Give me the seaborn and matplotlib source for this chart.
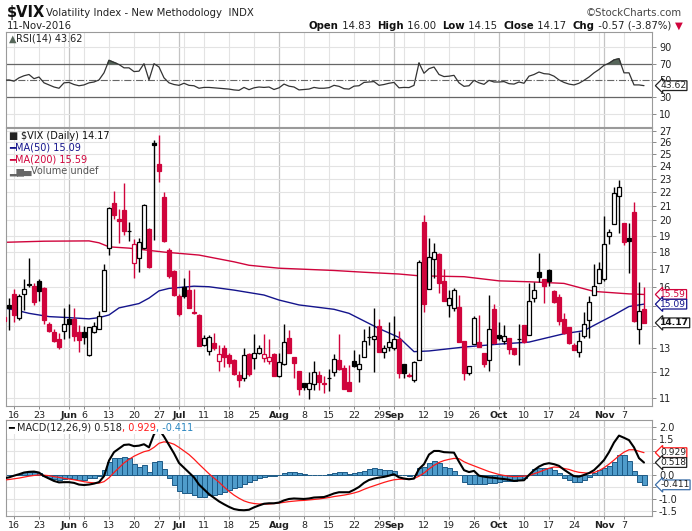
import numpy as np
import pandas as pd
import seaborn as sns
import matplotlib.pyplot as plt
from matplotlib.ticker import FixedLocator, NullLocator
from matplotlib.offsetbox import TextArea, HPacker, VPacker, AnchoredOffsetbox

sns.set_theme(style="white")
plt.rcParams["font.family"] = ["DejaVu Sans"]

# ---------------- data ----------------
holidays = ["2016-05-30", "2016-07-04", "2016-09-05"]
dates = pd.bdate_range("2016-05-12", "2016-11-11")
dates = dates[~dates.isin(pd.to_datetime(holidays))]

opens = [14.45, 15.05, 15.63, 14.4, 15.63, 16.15, 16.05, 16.3, 15.95, 14.1,
         13.72, 13.43, 13.8, 14.35, 14.35, 13.72, 13.72, 12.72, 13.72, 13.9,
         14.75, 18.2, 21.2, 20.1, 20.7, 19.33, 17.35, 17.6, 18.2, 19.45,
         25.95, 24.2, 21.65, 18.1, 16.85, 15.52, 16.0, 15.8, 14.68, 14.55,
         13.17, 12.87, 13.25, 12.45, 13.03, 12.7, 12.5, 11.88, 11.75, 12.78,
         12.57, 12.82, 12.57, 12.45, 12.78, 11.85, 12.33, 13.45, 12.65, 12.03,
         11.57, 11.35, 11.52, 11.88, 11.58, 11.76, 12.0, 12.5, 12.18, 11.62,
         12.45, 12.12, 12.65, 13.53, 13.43, 14.0, 12.85, 13.05, 13.0, 13.4,
         12.35, 11.88, 11.68, 12.5, 19.9, 15.9, 17.55, 17.85, 16.3, 15.05,
         14.9, 14.97, 13.35, 11.96, 13.2, 13.28, 12.82, 12.5, 14.85, 13.62,
         13.33, 13.47, 13.03, 13.42, 14.07, 13.62, 15.42, 16.8, 16.42, 16.9,
         15.75, 15.48, 14.33, 13.97, 13.13, 12.85, 13.57, 14.3, 15.55, 16.2,
         16.4, 18.98, 19.75, 21.75, 19.8, 18.85, 20.55, 13.9, 14.83]
highs = [14.6, 15.4, 15.9, 15.6, 16.4, 17.6, 16.2, 16.4, 16.0, 14.2,
         13.9, 13.7, 14.9, 15.1, 14.9, 14.05, 14.0, 13.97, 14.2, 14.75,
         17.25, 20.9, 22.05, 20.8, 22.7, 19.9, 18.8, 18.85, 21.15, 19.5,
         26.2, 26.7, 22.0, 18.2, 16.9, 15.6, 16.5, 16.9, 15.9, 14.6,
         13.6, 13.6, 13.7, 13.17, 13.17, 12.82, 12.55, 12.05, 13.0, 12.8,
         13.65, 13.17, 13.65, 13.4, 12.8, 12.82, 14.1, 13.85, 12.65, 12.03,
         11.58, 12.0, 12.45, 12.05, 11.85, 12.15, 12.75, 13.65, 12.28, 12.3,
         12.95, 12.75, 13.9, 14.0, 14.9, 14.35, 13.17, 14.2, 14.5, 13.8,
         12.35, 11.95, 12.45, 17.5, 20.4, 18.85, 18.55, 17.9, 17.0, 15.85,
         15.95, 15.55, 13.35, 12.25, 14.5, 14.55, 12.82, 15.55, 15.1, 14.2,
         14.05, 13.47, 13.03, 14.1, 14.07, 16.2, 16.25, 17.9, 16.42, 17.0,
         15.8, 15.6, 14.65, 13.97, 13.25, 13.75, 14.7, 15.5, 17.3, 17.4,
         20.3, 19.45, 22.4, 22.9, 19.8, 19.8, 21.3, 16.25, 16.0]
lows = [14.2, 13.85, 14.2, 14.3, 14.8, 16.0, 15.05, 15.25, 14.1, 13.75,
        13.3, 12.97, 13.4, 13.45, 13.35, 12.85, 13.2, 12.68, 13.68, 13.9,
        14.75, 17.8, 20.1, 18.55, 19.05, 18.65, 16.5, 16.8, 18.15, 17.05,
        18.75, 22.8, 18.6, 16.45, 15.5, 14.5, 15.4, 14.88, 14.6, 13.1,
        13.1, 12.7, 12.95, 12.05, 12.2, 12.2, 11.9, 11.4, 11.65, 11.85,
        12.15, 12.78, 12.4, 12.35, 11.83, 11.8, 12.3, 12.8, 11.75, 11.1,
        11.3, 10.95, 11.3, 11.3, 11.2, 11.25, 11.85, 12.08, 11.33, 11.25,
        12.2, 11.6, 12.65, 13.17, 12.0, 12.85, 12.6, 12.9, 12.95, 11.78,
        11.78, 11.8, 11.6, 12.5, 14.7, 15.9, 16.5, 15.65, 15.25, 14.45,
        14.75, 13.27, 11.7, 11.88, 13.2, 13.05, 12.2, 12.05, 13.2, 13.38,
        13.2, 12.75, 12.7, 12.3, 13.25, 13.62, 15.2, 16.25, 15.15, 16.03,
        15.15, 14.05, 13.65, 13.2, 12.93, 12.65, 13.45, 13.45, 15.55, 16.2,
        16.3, 18.5, 19.75, 19.15, 18.4, 16.75, 14.2, 13.2, 14.15]
closes = [14.27, 14.9, 14.55, 15.5, 15.9, 16.1, 15.2, 15.75, 14.3, 13.8,
          13.32, 13.05, 14.1, 14.12, 13.55, 13.37, 13.53, 13.95, 14.0, 14.5,
          16.95, 20.83, 20.35, 19.95, 19.27, 19.3, 18.5, 18.6, 21.07, 17.1,
          25.76, 23.65, 18.65, 16.6, 15.55, 14.6, 15.5, 14.9, 14.65, 13.12,
          13.45, 13.5, 13.0, 12.77, 12.62, 12.37, 11.92, 11.7, 12.7, 11.92,
          12.82, 13.0, 12.78, 12.65, 11.85, 12.4, 13.28, 12.8, 12.37, 11.33,
          11.4, 11.57, 12.0, 11.62, 11.55, 11.75, 12.55, 12.15, 11.35, 11.27,
          12.25, 12.32, 13.35, 13.52, 13.55, 12.85, 13.03, 13.3, 13.4, 11.95,
          11.96, 11.85, 12.42, 17.4, 15.1, 17.7, 18.0, 16.2, 15.25, 15.42,
          15.85, 13.27, 11.95, 12.25, 14.38, 13.07, 12.32, 13.9, 13.22, 13.48,
          13.55, 12.97, 12.77, 13.4, 13.27, 15.25, 15.8, 16.55, 16.03, 16.3,
          15.18, 14.25, 13.67, 13.22, 12.95, 13.35, 14.13, 15.22, 16.05, 17.0,
          18.45, 19.25, 21.95, 22.35, 18.62, 18.65, 14.25, 14.74, 14.17]

ma50_dates = ["2016-05-12", "2016-05-17", "2016-05-19", "2016-05-25", "2016-06-01",
              "2016-06-07", "2016-06-09", "2016-06-13", "2016-06-15", "2016-06-21",
              "2016-06-23", "2016-06-27", "2016-06-29", "2016-07-07", "2016-07-12",
              "2016-07-19", "2016-07-27", "2016-08-01", "2016-08-05", "2016-08-16",
              "2016-08-19", "2016-08-29", "2016-09-02", "2016-09-08", "2016-09-13",
              "2016-09-22", "2016-10-03", "2016-10-11", "2016-10-20", "2016-10-26",
              "2016-10-28", "2016-11-03", "2016-11-08", "2016-11-11"]
ma50_vals = [14.9, 14.75, 14.63, 14.47, 14.42, 14.36, 14.42, 14.55, 14.9, 15.12,
             15.4, 15.78, 15.91, 16.03, 16.0, 15.82, 15.56, 15.3, 15.05, 14.83,
             14.63, 13.9, 13.49, 12.86, 12.89, 13.06, 13.19, 13.28, 13.66, 13.8,
             14.05, 14.55, 14.97, 15.09]

ma200_dates = ["2016-05-12", "2016-05-24", "2016-06-07", "2016-06-09", "2016-06-13",
               "2016-06-17", "2016-06-28", "2016-07-08", "2016-07-19", "2016-07-22",
               "2016-08-01", "2016-08-16", "2016-08-24", "2016-09-02", "2016-09-09",
               "2016-09-22", "2016-10-03", "2016-10-11", "2016-10-20", "2016-10-28",
               "2016-11-08", "2016-11-11"]
ma200_vals = [18.58, 18.65, 18.67, 18.55, 18.3, 18.22, 17.98, 17.8, 17.4, 17.2,
              17.03, 16.9, 16.8, 16.7, 16.6, 16.55, 16.32, 16.27, 16.18, 15.75,
              15.62, 15.59]

rsi = [50, 50.5, 49, 53, 55.5, 57, 52, 54, 47, 44.5,
       42, 40.5, 47, 47.5, 45, 43.5, 44.5, 47, 48, 50.5,
       59, 74, 71.5, 69, 65, 65, 60.5, 61, 70, 50.5,
       70, 66, 53, 47, 45, 44, 46.5, 44, 43.5, 40.5,
       41.5, 41.5, 41, 40.5, 40, 39.5, 38.5, 38, 41.5, 38.8,
       41, 42, 41.5, 42, 39, 41, 45.5, 43, 42, 38.5,
       39, 39.5, 41.5, 40.5, 40.5, 41.2, 44, 42.8, 40, 39.5,
       43, 43.5, 47.5, 48, 48.5, 44, 45, 46.5, 47.5, 41,
       41.5, 41.3, 44, 70.8, 58.5, 64, 66, 57, 54.5, 55,
       56, 47, 42.8, 43.5, 50, 47, 45.2, 50, 48, 48,
       48.5, 46, 45.5, 48, 46.5, 55, 57, 60, 58, 57.5,
       55, 50.5, 47.5, 45.5, 44.5, 46.5, 50, 54, 59, 63,
       68, 70.5, 74.5, 76, 59, 59, 44.5, 44.5, 43.62]

macd = [-0.14, -0.1, -0.03, 0.03, 0.1, 0.13, 0.14, 0.1, -0.05, -0.15,
        -0.25, -0.31, -0.3, -0.3, -0.33, -0.4, -0.42, -0.4, -0.36, -0.3,
        -0.05, 0.6, 0.95, 1.1, 1.25, 1.27, 1.2, 1.22, 1.28, 1.15,
        1.7, 1.9, 1.6, 1.25, 0.9, 0.5, 0.3, 0.1, -0.1, -0.4,
        -0.6, -0.8, -0.95, -1.1, -1.22, -1.33, -1.42, -1.46, -1.47, -1.45,
        -1.35, -1.27, -1.2, -1.18, -1.18, -1.15, -1.06, -1.0, -0.98, -0.99,
        -1.0, -0.98, -0.94, -0.93, -0.92, -0.85, -0.77, -0.72, -0.72, -0.72,
        -0.62, -0.5, -0.33, -0.21, -0.15, -0.11, -0.08, -0.03, 0.03, -0.1,
        -0.15, -0.18, -0.15, 0.25, 0.45, 0.85, 1.0, 1.0, 0.95, 0.94,
        0.93, 0.55, 0.2, 0.12, 0.17, -0.03, -0.07, -0.1, -0.12, -0.15,
        -0.17, -0.2, -0.25, -0.23, -0.22, 0.0, 0.2, 0.35, 0.45, 0.49,
        0.45, 0.38, 0.22, 0.08, -0.05, -0.07, 0.0, 0.08, 0.2, 0.4,
        0.62, 0.95, 1.35, 1.64, 1.55, 1.45, 1.15, 0.7, 0.518]
signal = [-0.21, -0.19, -0.16, -0.13, -0.09, -0.05, -0.02, 0.0, -0.01, -0.03,
          -0.07, -0.1, -0.14, -0.17, -0.2, -0.24, -0.28, -0.31, -0.33, -0.34,
          -0.28, -0.12, 0.1, 0.3, 0.5, 0.65, 0.78, 0.88, 0.97, 1.02,
          1.15, 1.32, 1.38, 1.35, 1.28, 1.15, 1.0, 0.85, 0.66, 0.45,
          0.25, 0.05, -0.13, -0.3, -0.5, -0.68, -0.84, -0.97, -1.08, -1.15,
          -1.19, -1.21, -1.21, -1.21, -1.19, -1.17, -1.14, -1.11, -1.09, -1.07,
          -1.06, -1.04, -1.02, -1.0, -0.97, -0.94, -0.9, -0.87, -0.84, -0.8,
          -0.75, -0.69, -0.6, -0.52, -0.45, -0.38, -0.31, -0.25, -0.2, -0.18,
          -0.17, -0.17, -0.15, -0.05, 0.08, 0.25, 0.4, 0.52, 0.6, 0.65,
          0.69, 0.68, 0.55, 0.46, 0.38, 0.3, 0.22, 0.14, 0.08, 0.02,
          -0.02, -0.05, -0.07, -0.06, -0.05, -0.03, 0.05, 0.12, 0.2, 0.28,
          0.33, 0.32, 0.27, 0.23, 0.16, 0.11, 0.09, 0.07, 0.1, 0.18,
          0.3, 0.45, 0.62, 0.8, 0.95, 1.05, 1.05, 0.99, 0.929]
hist = [0.0, 0.0, 0.0, 0.04, 0.11, 0.11, 0.14, 0.07, -0.04, -0.14,
        -0.17, -0.21, -0.18, -0.14, -0.17, -0.21, -0.21, -0.14, -0.11, -0.04,
        0.21, 0.56, 0.72, 0.72, 0.76, 0.69, 0.44, 0.35, 0.42, 0.11,
        0.56, 0.58, 0.25, -0.11, -0.42, -0.67, -0.76, -0.76, -0.83, -0.9,
        -0.9, -0.83, -0.83, -0.81, -0.69, -0.62, -0.56, -0.49, -0.39, -0.31,
        -0.21, -0.14, -0.07, -0.03, -0.04, 0.0, 0.07, 0.11, 0.11, 0.07,
        0.03, 0.0, 0.01, 0.01, 0.01, 0.04, 0.07, 0.11, 0.11, 0.04,
        0.07, 0.11, 0.17, 0.25, 0.28, 0.25, 0.21, 0.21, 0.17, 0.0,
        0.0, -0.03, 0.0, 0.31, 0.35, 0.49, 0.58, 0.49, 0.35, 0.31,
        0.17, 0.0, -0.31, -0.39, -0.39, -0.39, -0.39, -0.35, -0.35, -0.31,
        -0.25, -0.25, -0.25, -0.21, -0.14, 0.0, 0.25, 0.31, 0.31, 0.28,
        0.21, 0.07, -0.11, -0.21, -0.28, -0.28, -0.21, -0.07, 0.07, 0.21,
        0.31, 0.39, 0.56, 0.83, 0.83, 0.58, 0.15, -0.31, -0.411]

price_ticks = list(range(11, 28))
hidden_price_labels = [14, 15]
rsi_ticks = [10, 30, 50, 70, 90]
macd_ticks = [-1.5, -1.0, -0.5, 0.0, 0.5, 1.0, 1.5, 2.0]
hidden_macd_labels = [-0.5, 0.5, 1.0]

# ---------------- colours ----------------
RED = "#d0043c"
NAVY = "#14148c"
MACD_BLUE = "#2a86c0"
GRID = "#e3e3e3"
MGRID = "#c4c4c4"
EDGE = "#9a9a9a"

df = pd.DataFrame({"date": dates, "open": opens, "high": highs, "low": lows,
                   "close": closes, "rsi": rsi, "macd": macd, "signal": signal,
                   "hist": hist})
df["x"] = np.arange(len(df))
prev = df["close"].shift(1).fillna(np.inf)
df["col"] = np.where(df["close"] < prev, RED, "black")
df["hollow"] = df["close"] > df["open"]

pos = {d: i for i, d in enumerate(dates)}
ma50 = pd.DataFrame({"x": [pos[pd.Timestamp(d)] for d in ma50_dates], "v": ma50_vals})
ma200 = pd.DataFrame({"x": [pos[pd.Timestamp(d)] for d in ma200_dates], "v": ma200_vals})

# week / month boundaries for grid and labels
week_starts = [i for i in range(1, len(dates))
               if dates[i].isocalendar()[1] != dates[i - 1].isocalendar()[1]]
month_starts = [i for i in range(1, len(dates)) if dates[i].month != dates[i - 1].month]
tick_pos, tick_lab, tick_bold = [], [], []
for i in sorted(set(week_starts) | set(month_starts)):
    if i in month_starts:
        tick_pos.append(i); tick_lab.append(dates[i].strftime("%b")); tick_bold.append(True)
    elif min(abs(i - m) for m in month_starts) > 2:
        tick_pos.append(i); tick_lab.append(str(dates[i].day)); tick_bold.append(False)

# ---------------- figure ----------------
W, H = 692, 531
fig = plt.figure(figsize=(W / 100, H / 100), dpi=100)
L, AW = 6 / W, 646 / W
ax_r = fig.add_axes([L, 1 - 127 / H, AW, 95 / H])
ax = fig.add_axes([L, 1 - 406 / H, AW, 278 / H])
ax_m = fig.add_axes([L, 1 - 516 / H, AW, 96 / H])

for a in (ax_r, ax, ax_m):
    a.set_xlim(0.4, 129.6)
    for s in a.spines.values():
        s.set_color(EDGE)
        s.set_linewidth(0.8)
    for i in week_starts:
        if i not in month_starts:
            a.axvline(i, color=GRID, lw=0.8, zorder=0)
    for i in month_starts:
        a.axvline(i, color=MGRID, lw=0.9, zorder=0)
    a.yaxis.tick_right()
    a.tick_params(axis="y", which="major", length=3, width=0.6, color="#777",
                  pad=2, labelsize=7, labelcolor="#222", right=True, left=False)
    a.tick_params(axis="x", length=2, width=0.6, color="#777", pad=1.5,
                  labelsize=6.8, labelcolor="#222", bottom=True)
    a.set_xticks(tick_pos)
    a.set_xlabel("")
    a.set_ylabel("")

for a in (ax, ax_m):
    a.set_xticklabels(tick_lab)
    for t, b in zip(a.get_xticklabels(), tick_bold):
        t.set_fontweight("bold" if b else "normal")
ax_r.set_xticklabels([])

# ---------- RSI panel ----------
ax_r.set_ylim(-6, 108)
ax_r.set_yticks(rsi_ticks)
for v in (10, 90):
    ax_r.axhline(v, color=GRID, lw=0.8, zorder=0)
for v in (30, 70):
    ax_r.axhline(v, color="#666", lw=0.9, zorder=1)
ax_r.axhline(50, color="#666", lw=0.8, ls="-.", zorder=1)
sns.lineplot(data=df, x="x", y="rsi", ax=ax_r, color="#333", lw=0.9, zorder=3)
ax_r.fill_between(df["x"], df["rsi"], 70, where=df["rsi"] > 70, interpolate=True,
                  color="#56665a", zorder=2)
ax_r.set_xlabel(""); ax_r.set_ylabel("")

# ---------- price panel ----------
ax.set_yscale("log")
ax.set_ylim(10.71, 27.3)
ax.yaxis.set_major_locator(FixedLocator(price_ticks))
ax.yaxis.set_minor_locator(NullLocator())
ax.set_yticklabels(["" if p in hidden_price_labels else str(p) for p in price_ticks])
for p in price_ticks:
    ax.axhline(p, color=GRID, lw=0.8, zorder=0)

sns.lineplot(data=ma200, x="x", y="v", ax=ax, color=RED, lw=1.0, zorder=2)
sns.lineplot(data=ma50, x="x", y="v", ax=ax, color=NAVY, lw=1.0, zorder=2)

ax.vlines(df["x"], df["low"], df["high"], colors=df["col"], lw=1.0, zorder=3)
body_lo = np.minimum(df["open"], df["close"])
body_h = np.maximum(np.abs(df["close"] - df["open"]), 0.01)
face = np.where(df["hollow"], "white", df["col"])
ax.bar(df["x"], body_h, bottom=body_lo, width=0.72, color=face,
       edgecolor=df["col"], lw=0.9, zorder=4)
ax.set_xlabel(""); ax.set_ylabel("")

# ---------- MACD panel ----------
ax_m.set_ylim(-1.71, 2.29)
ax_m.set_yticks(macd_ticks)
ax_m.set_yticklabels(["" if v in hidden_macd_labels else f"{v:.1f}" for v in macd_ticks])
for v in macd_ticks:
    ax_m.axhline(v, color=GRID, lw=0.8, zorder=0)
ax_m.bar(df["x"], df["hist"], width=1.0, color="#4f9ccb", edgecolor="#1d5a86",
         lw=0.7, zorder=2)
sns.lineplot(data=df, x="x", y="signal", ax=ax_m, color="#ff1a1a", lw=0.9, zorder=3)
sns.lineplot(data=df, x="x", y="macd", ax=ax_m, color="black", lw=1.5, zorder=4)
ax_m.set_xlabel(""); ax_m.set_ylabel("")


# ---------- value tags on the right ----------
def tag(a, y, s, ec, tc, bold=False):
    a.annotate(s, xy=(1, y), xycoords=("axes fraction", "data"), xytext=(6, 0),
               textcoords="offset points", ha="left", va="center", fontsize=6.6,
               color=tc, fontweight="bold" if bold else "normal",
               bbox=dict(boxstyle="larrow,pad=0.04", fc="white", ec=ec, lw=0.9),
               annotation_clip=False, zorder=10)


tag(ax_r, rsi[-1], f"{rsi[-1]:.2f}", "#222", "#222")
tag(ax, ma200_vals[-1], f"{ma200_vals[-1]:.2f}", RED, RED)
tag(ax, ma50_vals[-1], f"{ma50_vals[-1]:.2f}", NAVY, NAVY)
tag(ax, closes[-1], f"{closes[-1]:.2f}", "#222", "#111", bold=True)
tag(ax_m, signal[-1], f"{signal[-1]:.3f}", "#ff1a1a", "#222")
tag(ax_m, macd[-1], f"{macd[-1]:.3f}", "#222", "#222")
tag(ax_m, hist[-1], f"{hist[-1]:.3f}", "#3c6ea8", "#222")


# ---------- texts ----------
def row(parts, size=7):
    kids = [TextArea(t, textprops=dict(size=size, color=c, fontweight=w))
            for t, c, w in parts]
    return HPacker(children=kids, align="baseline", pad=0, sep=0)


def place(box, x, y, loc, frame=False):
    ab = AnchoredOffsetbox(loc=loc, child=box, pad=0.05, borderpad=0,
                           frameon=frame, bbox_to_anchor=(x / W, 1 - y / H),
                           bbox_transform=fig.transFigure)
    if frame:
        ab.patch.set_facecolor("white")
        ab.patch.set_edgecolor("none")
    ab.set_zorder(20)
    fig.add_artist(ab)


place(row([("\\$VIX", "#111", "bold")], size=10.5), 6, 4, "upper left")
place(row([("Volatility Index - New Methodology  INDX", "#222", "normal")], size=7.3),
      45, 7, "upper left")
place(row([("\u00a9StockCharts.com", "#444", "normal")], size=7.3), 683, 7, "upper right")
place(row([("11-Nov-2016", "#222", "normal")], size=7.3), 6, 20, "upper left")
place(row([("Open", "#111", "bold"), (" 14.83  ", "#222", "normal"),
           ("High", "#111", "bold"), (" 16.00  ", "#222", "normal"),
           ("Low", "#111", "bold"), (" 14.15  ", "#222", "normal"),
           ("Close", "#111", "bold"), (" 14.17  ", "#222", "normal"),
           ("Chg", "#111", "bold"), (" -0.57 (-3.87%) ", "#222", "normal"),
           ("\u25bc", RED, "normal")], size=7.3), 683, 20, "upper right")

place(row([("\u25b2", "#56665a", "normal"), ("RSI(14) 43.62", "#222", "normal")]),
      8, 33, "upper left")

legend_main = VPacker(children=[
    row([("\u25a0 ", "#222", "normal"), ("\\$VIX (Daily) 14.17", "#111", "normal")]),
    row([("\u2501", NAVY, "bold"), ("MA(50) 15.09", NAVY, "normal")]),
    row([("\u2501", RED, "bold"), ("MA(200) 15.59", RED, "normal")]),
    row([("\u2582\u2586\u2584", "#666", "normal"), ("Volume undef", "#555", "normal")]),
], align="left", pad=0, sep=1.2)
place(legend_main, 8, 130, "upper left")

place(row([("\u2501 ", "black", "bold"), ("MACD(12,26,9) 0.518", "#222", "normal"),
           (", 0.929", "#ff1a1a", "normal"), (", -0.411", MACD_BLUE, "normal")]),
      7, 422, "upper left", frame=True)

fig.savefig("out.png", dpi=100, facecolor="white")
